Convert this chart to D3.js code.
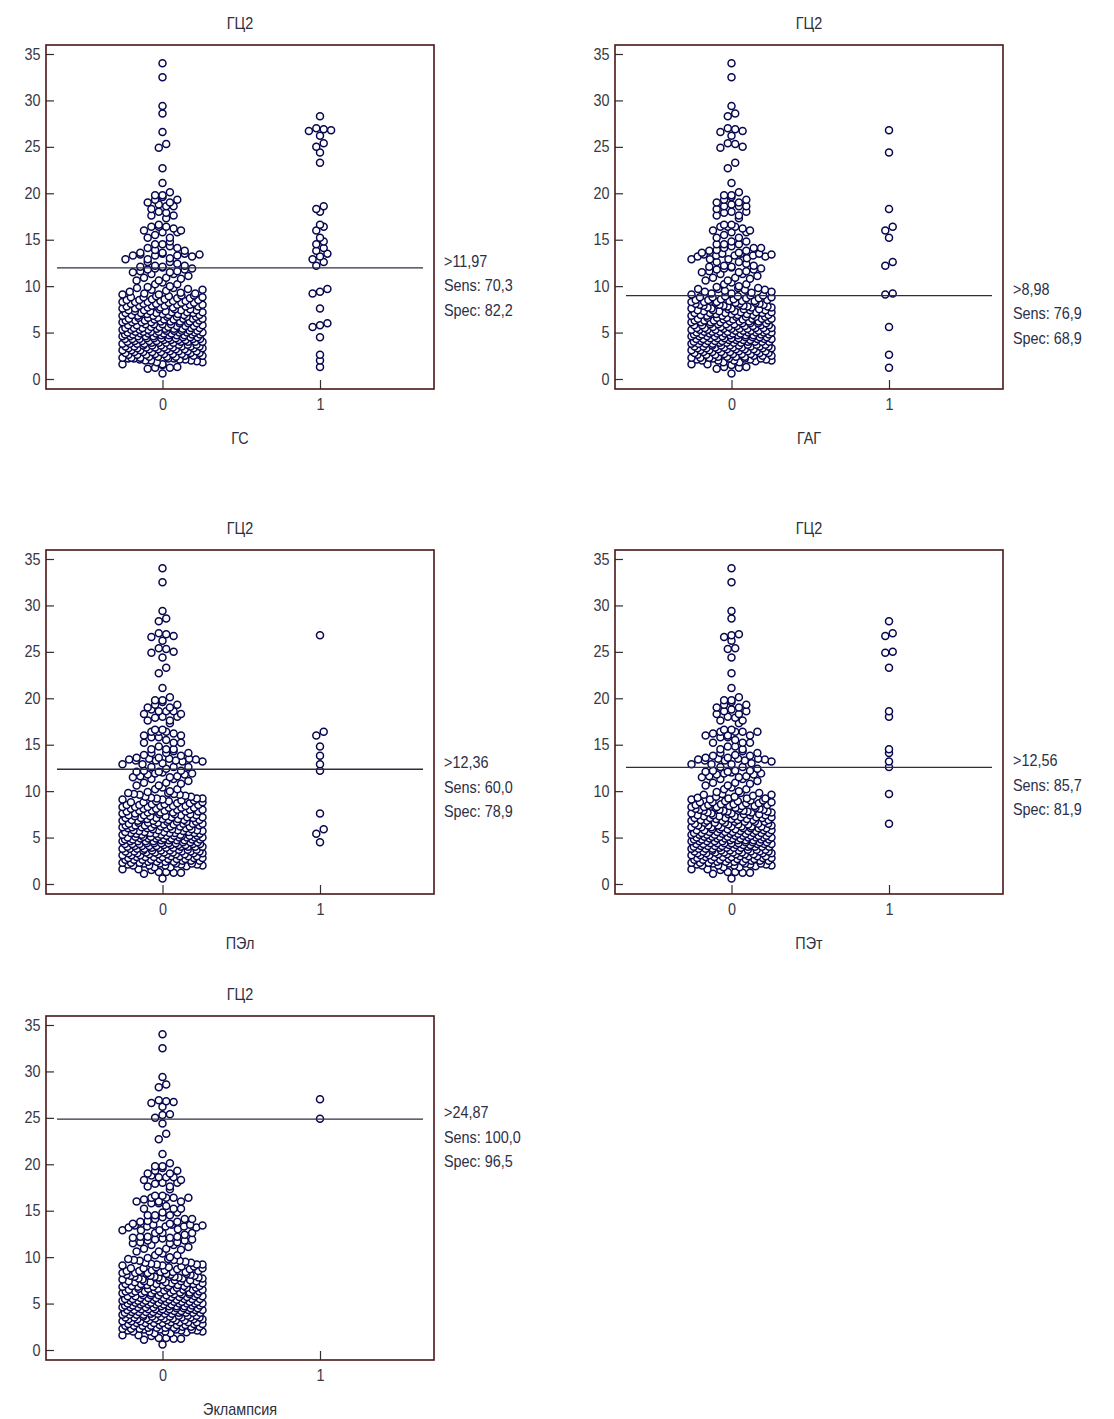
<!DOCTYPE html>
<html>
<head>
<meta charset="utf-8">
<script src="https://cdn.jsdelivr.net/npm/d3@7"></script>
<style>
  body { margin: 0; background: #ffffff; }
  svg { display: block; }
  text { font-family: "Liberation Sans", Arial, sans-serif; }
</style>
</head>
<body>
<script>
// ГЦ2 values of the whole sample as a frequency table: [value, number of patients]
const sampleCounts = [
  [0.6,1],[1.1,1],[1.2,2],[1.3,2],[1.5,1],[1.6,2],[1.8,2],[1.9,1],
  [2.0,4],[2.1,3],[2.2,4],[2.3,3],[2.4,4],[2.5,3],[2.6,4],[2.7,4],[2.8,3],[2.9,4],
  [3.0,4],[3.1,3],[3.2,5],[3.3,4],[3.4,4],[3.5,5],[3.6,4],[3.7,3],[3.8,4],[3.9,4],
  [4.0,5],[4.1,4],[4.2,4],[4.3,5],[4.4,5],[4.5,4],[4.6,5],[4.7,4],[4.8,4],[4.9,5],
  [5.0,5],[5.1,4],[5.2,5],[5.3,4],[5.4,4],[5.5,5],[5.6,4],[5.7,3],[5.8,4],[5.9,4],
  [6.0,4],[6.1,4],[6.2,4],[6.3,4],[6.4,3],[6.5,4],[6.6,3],[6.7,4],[6.8,3],[6.9,4],
  [7.0,3],[7.1,4],[7.2,3],[7.3,3],[7.4,4],[7.5,3],[7.6,3],[7.7,3],[7.8,3],[7.9,3],
  [8.0,3],[8.1,3],[8.2,3],[8.3,3],[8.4,3],[8.5,3],[8.6,2],[8.7,2],[8.8,3],[8.9,2],
  [9.0,2],[9.1,2],[9.2,3],[9.3,1],[9.4,2],[9.5,1],[9.6,2],[9.7,2],[9.8,2],[9.9,1],
  [10.0,1],[10.2,2],[10.4,1],[10.6,2],[10.8,1],[10.9,2],
  [11.1,1],[11.3,2],[11.5,2],[11.6,2],[11.8,2],[11.9,2],
  [12.0,1],[12.1,2],[12.2,3],[12.4,1],[12.6,3],[12.9,3],
  [13.0,1],[13.2,2],[13.3,3],[13.4,2],[13.5,3],[13.6,2],[13.8,2],[13.9,1],
  [14.1,3],[14.3,1],[14.5,3],[14.8,2],
  [15.2,3],[15.5,1],[15.8,2],
  [16.0,3],[16.2,1],[16.4,4],[16.6,2],
  [17.3,1],[17.6,2],[17.9,1],
  [18.0,2],[18.3,2],[18.6,3],[18.8,1],
  [19.0,2],[19.3,2],[19.6,1],[19.8,2],
  [20.1,1],[21.1,1],[22.7,1],[23.3,1],[24.4,1],[24.9,1],[25.0,1],[25.3,1],[25.4,1],
  [26.2,1],[26.6,1],[26.7,1],[26.8,1],[26.9,1],[27.0,1],[28.3,1],[28.6,1],[29.4,1],
  [32.5,1],[34.0,1]
];

// ГЦ2 values of the patients with each outcome (group 1)
const positivesGS = [28.3,27.0,26.9,26.8,26.7,26.2,25.4,25.0,24.4,23.3,18.6,18.3,18.0,16.6,16.4,16.0,
  15.2,14.8,14.5,14.1,13.8,13.5,13.2,12.9,12.6,12.2,9.7,9.4,9.2,7.6,6.0,5.8,5.6,4.5,2.6,2.0,1.3];
const positivesGAG = [26.8,24.4,18.3,16.4,16.0,15.2,12.6,12.2,9.2,9.1,5.6,2.6,1.2];
const positivesPEl = [26.8,16.4,16.0,14.8,13.8,12.9,12.2,7.6,5.9,5.4,4.5];
const positivesPEt = [28.3,27.0,26.7,25.0,24.9,23.3,18.6,18.0,14.5,14.1,13.2,12.6,9.7,6.5];
const positivesEcl = [27.0,24.9];

const outcomeNames = ["ГС", "ГАГ", "ПЭл", "ПЭт", "Эклампсия"];
const outcomePositives = [positivesGS, positivesGAG, positivesPEl, positivesPEt, positivesEcl];
const cutoffLabels = ["11,97", "8,98", "12,36", "12,56", "24,87"];
const cutoffValues = [11.97, 8.98, 12.36, 12.56, 24.87];
const sensitivity = ["70,3", "76,9", "60,0", "85,7", "100,0"];
const specificity = ["82,2", "68,9", "78,9", "81,9", "96,5"];
const panelTitle = "ГЦ2";
const yTicks = [0, 5, 10, 15, 20, 25, 30, 35];
const xCategories = [0, 1];

// ---- layout ----
const W = 1114, H = 1419;
const panelOrigins = [[0, 0], [569, 0], [0, 505], [569, 505], [0, 971]];
const frame = { left: 46, right: 434, top: 45, bottom: 389 };
const dotR = 3.5, dotStep = 7.4, binPx = 7, maxSpread = 80;
const fontSize = 16, squeeze = 0.9;   // slightly condensed labels

const svg = d3.select("body").append("svg").attr("width", W).attr("height", H);

const y = d3.scaleLinear().domain([0, 35]).range([379, 54]);
const x = d3.scaleLinear().domain([0, 1]).range([162.5, 320]);

// expand the frequency table to single observations
const sample = sampleCounts.flatMap(([v, n]) => d3.range(n).map(() => v));

// everyone in the sample who is not in the outcome group
function negativesOf(positives) {
  const rest = sample.slice();
  positives.forEach(v => {
    const i = rest.indexOf(v);
    if (i >= 0) rest.splice(i, 1);
  });
  return rest;
}

// dot diagram placement: values falling into the same row band sit side by side
function placeDots(values, cx) {
  const binU = binPx / (y(0) - y(1));
  const rows = d3.groups(values.slice().sort(d3.ascending), v => Math.floor(v / binU));
  const pts = [];
  rows.forEach(([, vals]) => {
    const n = vals.length;
    const step = n > 1 ? Math.min(dotStep, maxSpread / (n - 1)) : 0;
    // spread values of a row across slots with a fixed stride so the row does not slant
    const stride = n > 3 ? (n % 3 !== 0 ? 3 : (n % 5 !== 0 ? 5 : 7)) : 1;
    const used = new Set();
    vals.forEach((v, i) => {
      let slot = (i * stride) % n;
      while (used.has(slot)) slot = (slot + 1) % n;
      used.add(slot);
      pts.push({ v, x: cx + (slot - (n - 1) / 2) * step });
    });
  });
  return pts;
}

// text drawn at (tx, ty) with a narrow horizontal scale
function label(sel, tx, ty, str, anchor) {
  return sel.append("text")
    .attr("transform", `translate(${tx},${ty}) scale(${squeeze},1)`)
    .attr("text-anchor", anchor || "start")
    .attr("font-size", fontSize).attr("fill", "#2e2e3c")
    .text(str);
}

outcomeNames.forEach((name, k) => {
  const [ox, oy] = panelOrigins[k];
  const g = svg.append("g").attr("transform", `translate(${ox},${oy})`);
  const midX = (frame.left + frame.right) / 2;

  // title and x axis title
  label(g, midX, 29, panelTitle, "middle");
  label(g, midX, frame.bottom + 55, name, "middle");

  // y axis (ticks point inwards)
  const ya = g.append("g").attr("transform", `translate(${frame.left},0)`)
    .call(d3.axisLeft(y).tickValues(yTicks).tickSizeInner(-8).tickSizeOuter(0).tickPadding(6));
  ya.select(".domain").remove();
  ya.selectAll(".tick line").attr("stroke", "#303030").attr("stroke-width", 1.2);
  ya.selectAll(".tick text").attr("font-size", fontSize).attr("fill", "#383846")
    .attr("font-family", "'Liberation Sans', Arial, sans-serif")
    .attr("transform", `scale(${squeeze},1)`);

  // x axis
  const xa = g.append("g").attr("transform", `translate(0,${frame.bottom})`)
    .call(d3.axisBottom(x).tickValues(xCategories).tickFormat(d3.format("d"))
      .tickSizeInner(-9).tickSizeOuter(0).tickPadding(10));
  xa.select(".domain").remove();
  xa.selectAll(".tick line").attr("stroke", "#303030").attr("stroke-width", 1.2);
  xa.selectAll(".tick text").attr("font-size", fontSize).attr("fill", "#383846")
    .attr("font-family", "'Liberation Sans', Arial, sans-serif")
    .attr("transform", `scale(${squeeze},1)`);

  // dots
  const dots = placeDots(negativesOf(outcomePositives[k]), x(0))
    .concat(placeDots(outcomePositives[k], x(1)));
  g.append("g").selectAll("circle").data(dots).join("circle")
    .attr("cx", d => d.x).attr("cy", d => y(d.v)).attr("r", dotR)
    .attr("fill", "#ffffff").attr("stroke", "#07074f").attr("stroke-width", 1.5);

  // cut-off line
  const cy = y(cutoffValues[k]);
  g.append("line")
    .attr("x1", frame.left + 11).attr("x2", frame.right - 11)
    .attr("y1", cy).attr("y2", cy)
    .attr("stroke", "#2e2e40").attr("stroke-width", 1.3);

  // frame
  g.append("rect")
    .attr("x", frame.left).attr("y", frame.top)
    .attr("width", frame.right - frame.left).attr("height", frame.bottom - frame.top)
    .attr("fill", "none").attr("stroke", "#4a1616").attr("stroke-width", 1.6);

  // cut-off statistics
  const lines = [">" + cutoffLabels[k], "Sens: " + sensitivity[k], "Spec: " + specificity[k]];
  lines.forEach((s, i) => {
    label(g, frame.right + 10, cy - 1 + i * 24.5, s, "start").attr("fill", "#2c2f48");
  });
});
</script>
</body>
</html>
